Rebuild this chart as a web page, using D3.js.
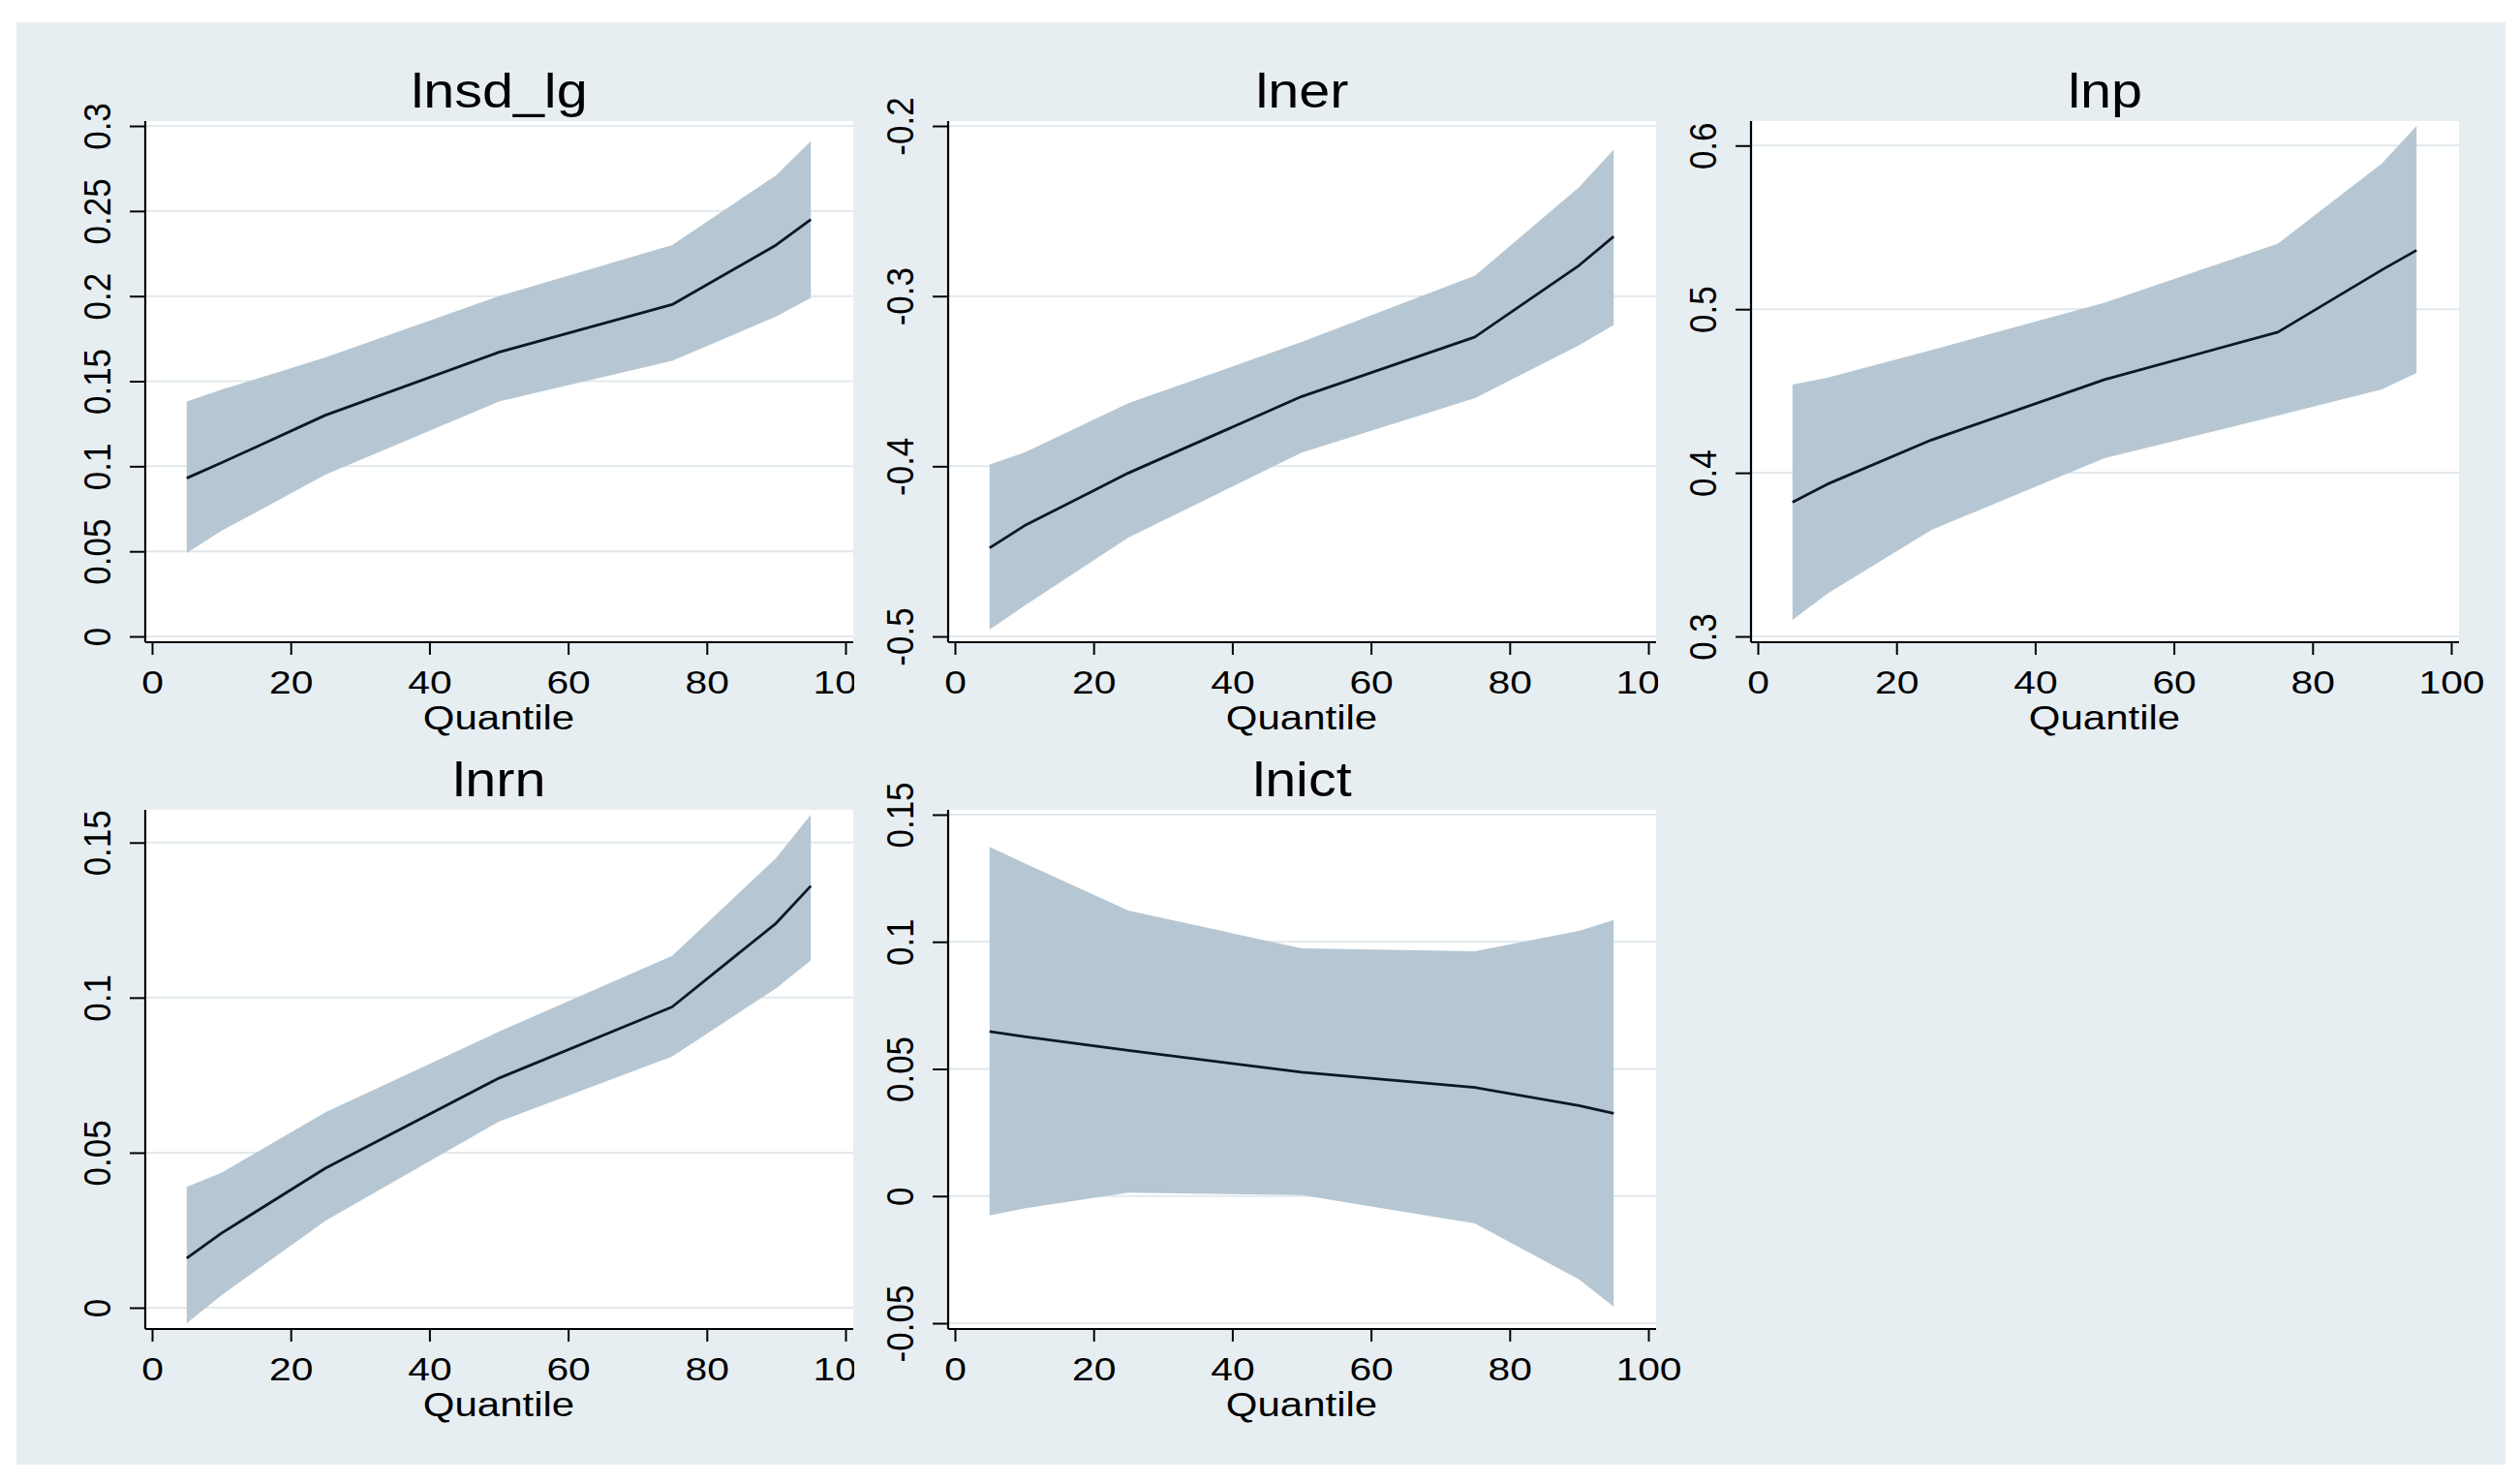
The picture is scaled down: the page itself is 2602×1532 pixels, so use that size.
<!DOCTYPE html>
<html>
<head>
<meta charset="utf-8">
<script src="https://cdn.jsdelivr.net/npm/d3@7/dist/d3.min.js"></script>
<style>
  html, body { margin: 0; padding: 0; background: #ffffff; }
  svg { display: block; }
  text { font-family: "Liberation Sans", Arial, Helvetica, sans-serif; fill: #000; }
</style>
</head>
<body>
<svg id="chart"></svg>
<script>
// quantiles at which the coefficients were estimated
var quantiles = [5, 10, 25, 50, 75, 90, 95];
var xTicks = [0, 20, 40, 60, 80, 100];
var xTickLabels = ["0", "20", "40", "60", "80", "100"];
var panelTitles = ["lnsd_lg", "lner", "lnp", "lnrn", "lnict"];

// coefficient, lower and upper bound for each variable
var lnsdLgCoef = [0.093, 0.102, 0.130, 0.167, 0.195, 0.230, 0.245];
var lnsdLgLow  = [0.049, 0.062, 0.095, 0.138, 0.162, 0.188, 0.199];
var lnsdLgHigh = [0.138, 0.145, 0.164, 0.200, 0.230, 0.271, 0.291];

var lnerCoef = [-0.448, -0.435, -0.404, -0.359, -0.324, -0.282, -0.265];
var lnerLow  = [-0.496, -0.482, -0.442, -0.392, -0.360, -0.329, -0.317];
var lnerHigh = [-0.399, -0.392, -0.363, -0.327, -0.288, -0.236, -0.214];

var lnpCoef = [0.382, 0.393, 0.420, 0.457, 0.486, 0.524, 0.536];
var lnpLow  = [0.310, 0.326, 0.365, 0.409, 0.435, 0.451, 0.461];
var lnpHigh = [0.454, 0.458, 0.475, 0.504, 0.540, 0.589, 0.612];

var lnrnCoef = [0.016, 0.024, 0.045, 0.074, 0.097, 0.124, 0.136];
var lnrnLow  = [-0.005, 0.004, 0.028, 0.060, 0.081, 0.103, 0.112];
var lnrnHigh = [0.039, 0.0435, 0.063, 0.089, 0.1135, 0.145, 0.159];

var lnictCoef = [0.0647, 0.0627, 0.0573, 0.0487, 0.0427, 0.0356, 0.0325];
var lnictLow  = [-0.0076, -0.0049, 0.0013, 0.0004, -0.0108, -0.0328, -0.0435];
var lnictHigh = [0.1373, 0.131, 0.1123, 0.0974, 0.0963, 0.1043, 0.1086];

// y axis ticks per panel
var lnsdLgTicks = [0, 0.05, 0.1, 0.15, 0.2, 0.25, 0.3];
var lnsdLgTickLabels = ["0", "0.05", "0.1", "0.15", "0.2", "0.25", "0.3"];
var lnerTicks = [-0.5, -0.4, -0.3, -0.2];
var lnerTickLabels = ["-0.5", "-0.4", "-0.3", "-0.2"];
var lnpTicks = [0.3, 0.4, 0.5, 0.6];
var lnpTickLabels = ["0.3", "0.4", "0.5", "0.6"];
var lnrnTicks = [0, 0.05, 0.1, 0.15];
var lnrnTickLabels = ["0", "0.05", "0.1", "0.15"];
var lnictTicks = [-0.05, 0, 0.05, 0.1, 0.15];
var lnictTickLabels = ["-0.05", "0", "0.05", "0.1", "0.15"];

var panels = [
  {title: panelTitles[0], coef: lnsdLgCoef, low: lnsdLgLow, high: lnsdLgHigh, ticks: lnsdLgTicks, labels: lnsdLgTickLabels},
  {title: panelTitles[1], coef: lnerCoef, low: lnerLow, high: lnerHigh, ticks: lnerTicks, labels: lnerTickLabels},
  {title: panelTitles[2], coef: lnpCoef, low: lnpLow, high: lnpHigh, ticks: lnpTicks, labels: lnpTickLabels},
  {title: panelTitles[3], coef: lnrnCoef, low: lnrnLow, high: lnrnHigh, ticks: lnrnTicks, labels: lnrnTickLabels},
  {title: panelTitles[4], coef: lnictCoef, low: lnictLow, high: lnictHigh, ticks: lnictTicks, labels: lnictTickLabels}
];

var W = 2602, H = 1532;
var bgColor = "#e7eef2";
var bandColor = "#b6c7d3";

var svg = d3.select("#chart").attr("width", W).attr("height", H);

svg.append("rect")
  .attr("x", 17).attr("y", 23)
  .attr("width", 2587 - 17).attr("height", 1512 - 23)
  .attr("fill", bgColor);

// layout of the 3x2 grid
var colLeft = [17, 882, 1712], colRight = [882, 1712, 2587];
var rowTop = [23, 770], rowBottom = [770, 1512];
var innerTop = [130, 841], innerBottom = [657, 1366];

panels.forEach(function(p, i) {
  var col = i % 3, row = Math.floor(i / 3);
  var x0 = 157 + col * 829;
  var plotW = 716;
  var wLeft = x0 - 7, wRight = x0 + plotW + 8;
  var wTop = innerTop[row] - 5, wBottom = innerBottom[row] + 6;

  var g = svg.append("g");

  // cell background (covers overflow from the panel on the left)
  g.append("rect")
    .attr("x", colLeft[col]).attr("y", rowTop[row])
    .attr("width", colRight[col] - colLeft[col])
    .attr("height", rowBottom[row] - rowTop[row])
    .attr("fill", bgColor);

  g.append("rect")
    .attr("x", wLeft).attr("y", wTop)
    .attr("width", wRight - wLeft).attr("height", wBottom - wTop)
    .attr("fill", "#ffffff");

  var yMin = Math.min(p.ticks[0], d3.min(p.low));
  var yMax = Math.max(p.ticks[p.ticks.length - 1], d3.max(p.high));

  var x = d3.scaleLinear().domain([0, 100]).range([x0, x0 + plotW]);
  var y = d3.scaleLinear().domain([yMin, yMax]).range([innerBottom[row], innerTop[row]]);

  // grid lines
  g.selectAll(".grid")
    .data(p.ticks)
    .enter().append("line")
    .attr("x1", wLeft).attr("x2", wRight)
    .attr("y1", function(d) { return y(d); })
    .attr("y2", function(d) { return y(d); })
    .attr("stroke", "#e2e9ed")
    .attr("stroke-width", 2);

  var rows = quantiles.map(function(q, k) {
    return {q: q, c: p.coef[k], lo: p.low[k], hi: p.high[k]};
  });

  var area = d3.area()
    .x(function(d) { return x(d.q); })
    .y0(function(d) { return y(d.lo); })
    .y1(function(d) { return y(d.hi); });

  var line = d3.line()
    .x(function(d) { return x(d.q); })
    .y(function(d) { return y(d.c); });

  g.append("path").datum(rows)
    .attr("d", area)
    .attr("fill", bandColor);

  g.append("path").datum(rows)
    .attr("d", line)
    .attr("fill", "none")
    .attr("stroke", "#0d1725")
    .attr("stroke-width", 2.8)
    .attr("stroke-linejoin", "round");

  // y axis
  var yAxis = d3.axisLeft(y)
    .tickValues(p.ticks)
    .tickFormat(function(d, k) { return p.labels[k]; })
    .tickSize(16)
    .tickSizeOuter(0);

  var ya = g.append("g")
    .attr("transform", "translate(" + wLeft + ",0)")
    .call(yAxis);
  ya.select(".domain").remove();
  ya.selectAll(".tick line").attr("stroke", "#000").attr("stroke-width", 2);
  ya.selectAll(".tick text")
    .attr("font-size", 35)
    .attr("text-anchor", "middle")
    .attr("x", 0)
    .attr("dy", 0)
    .attr("y", -32.5)
    .attr("transform", "scale(1.1,1) rotate(-90)");

  // x axis
  var xAxis = d3.axisBottom(x)
    .tickValues(xTicks)
    .tickFormat(function(d, k) { return xTickLabels[k]; })
    .tickSize(13)
    .tickSizeOuter(0);

  var xa = g.append("g")
    .attr("transform", "translate(0," + wBottom + ")")
    .call(xAxis);
  xa.select(".domain").remove();
  xa.selectAll(".tick line").attr("stroke", "#000").attr("stroke-width", 2);
  xa.selectAll(".tick text")
    .attr("font-size", 34)
    .attr("dy", 0)
    .attr("y", 53)
    .attr("transform", "scale(1.2,1)");

  // axis lines
  g.append("line")
    .attr("x1", wLeft).attr("x2", wLeft)
    .attr("y1", wTop).attr("y2", wBottom)
    .attr("stroke", "#000").attr("stroke-width", 2.2);
  g.append("line")
    .attr("x1", wLeft).attr("x2", wRight)
    .attr("y1", wBottom).attr("y2", wBottom)
    .attr("stroke", "#000").attr("stroke-width", 2.2);

  // axis title
  g.append("g")
    .attr("transform", "translate(" + (x0 + plotW / 2) + "," + (wBottom + 90) + ") scale(1.2,1)")
    .append("text")
    .attr("text-anchor", "middle")
    .attr("font-size", 35)
    .text("Quantile");

  // panel title
  g.append("g")
    .attr("transform", "translate(" + ((wLeft + wRight) / 2) + "," + (wTop - 14) + ") scale(1.15,1)")
    .append("text")
    .attr("text-anchor", "middle")
    .attr("font-size", 50)
    .text(p.title);
});
</script>
</body>
</html>
